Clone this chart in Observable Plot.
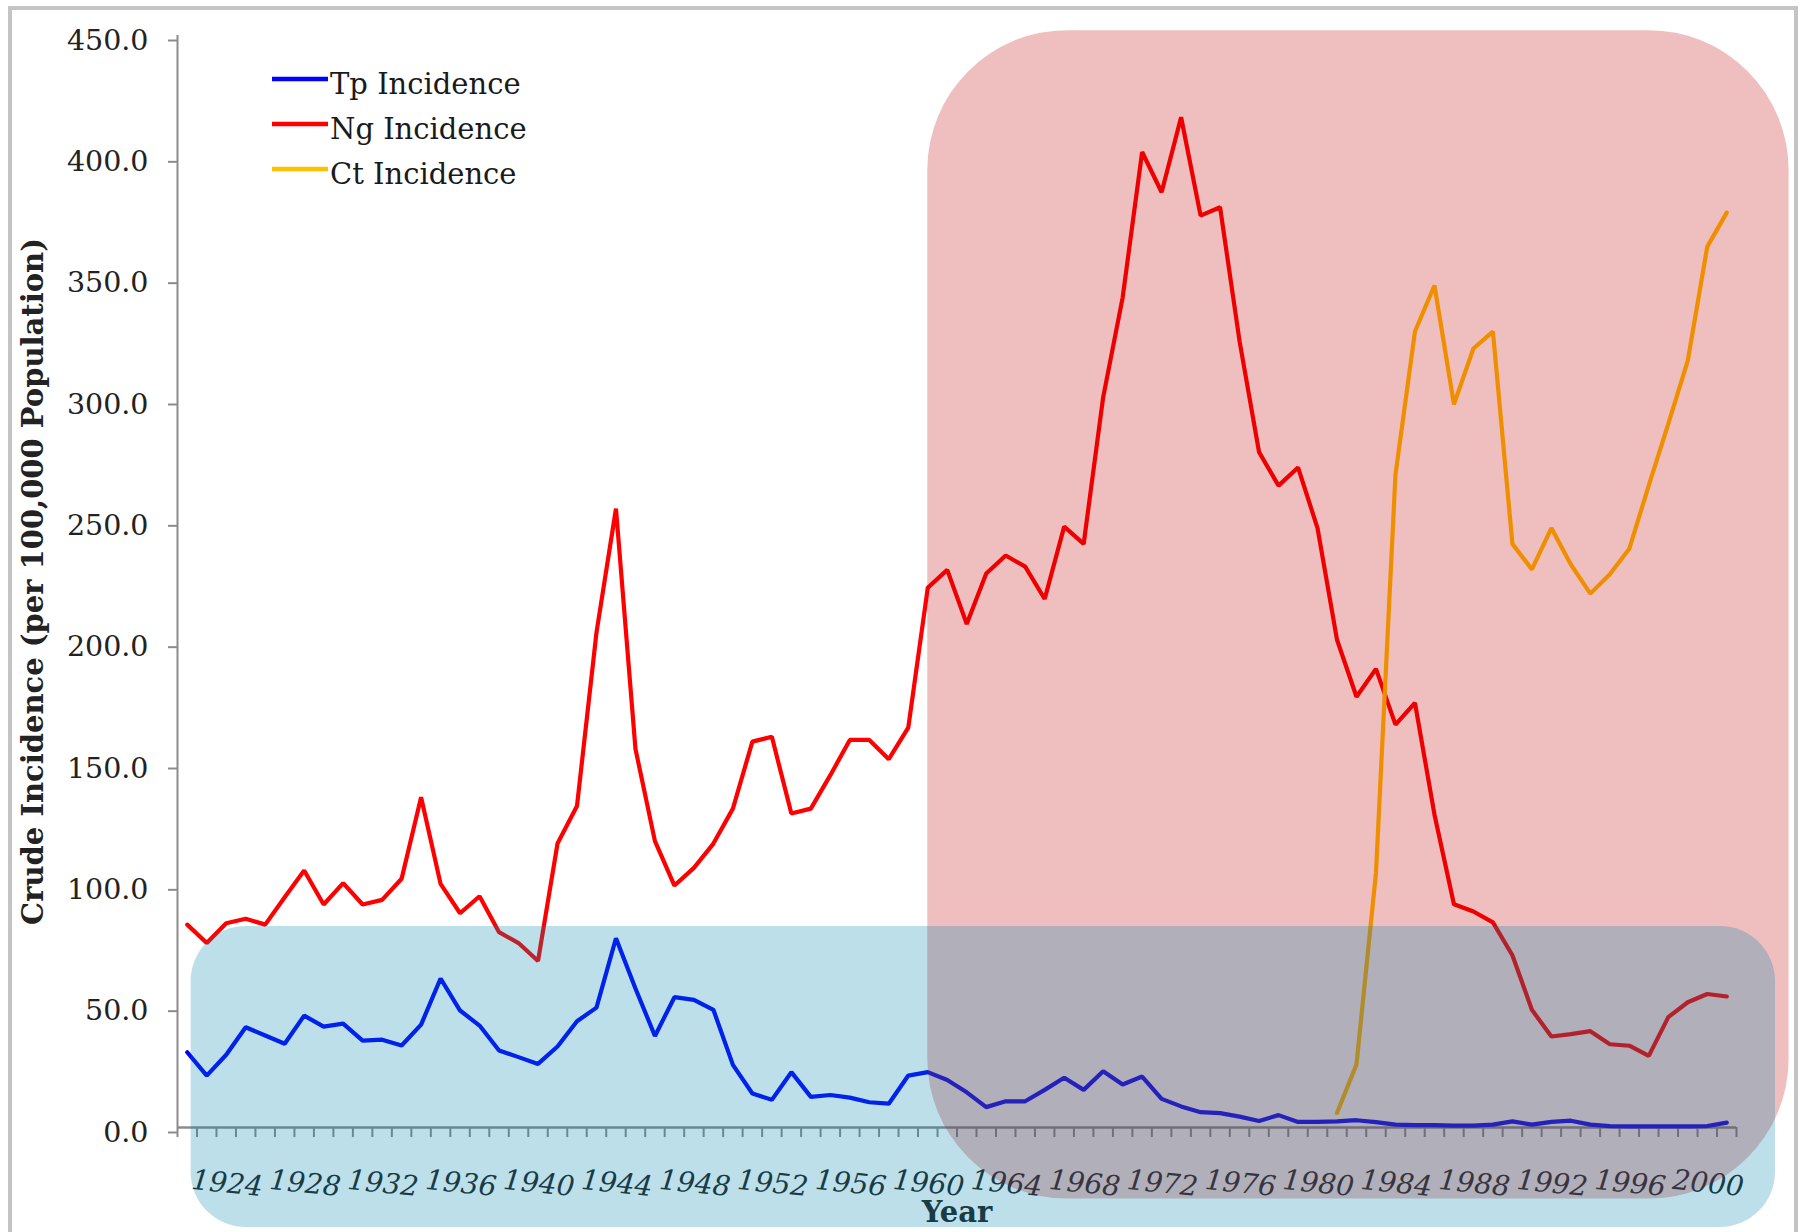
<!DOCTYPE html>
<html>
<head>
<meta charset="utf-8">
<script src="https://cdn.jsdelivr.net/npm/d3@7"></script>
<script src="https://cdn.jsdelivr.net/npm/@observablehq/plot@0.6"></script>
<style>
  html, body { margin: 0; padding: 0; background: #fff; }
  #wrap { position: relative; width: 1810px; height: 1232px; overflow: hidden; background: #fff; }
  #frame { position: absolute; left: 8px; top: 6px; width: 1790px; height: 1230px; box-sizing: border-box;
           border: 4px solid #c4c4c4; pointer-events: none; }
  #legend { position: absolute; left: 0; top: 0; pointer-events: none; }
</style>
</head>
<body>
<div id="wrap"><div id="chart"></div><svg id="legend" width="600" height="220"></svg><div id="frame"></div></div>
<script>
// ---- data ----
const startYear = 1922;
const tpIncidence = [
  31, 21.4, 30, 41.3, 37.9, 34.5, 46.1, 41.6, 42.8, 35.8,
  36.2, 33.8, 42.4, 61.4, 48.2, 42, 31.7, 29, 26.2, 33.4,
  43.8, 49.4, 78, 57.3, 37.7, 53.7, 52.6, 48.5, 25.8, 14,
  11.4, 22.8, 12.6, 13.4, 12.3, 10.4, 9.8, 21.4, 22.8, 19.6,
  14.5, 8.4, 10.8, 10.8, 15.5, 20.5, 15.5, 23.2, 17.7, 21,
  11.8, 8.7, 6.3, 5.9, 4.5, 2.7, 5.1, 2.3, 2.3, 2.5,
  3, 2.2, 1.2, 1, 1, 0.8, 0.8, 1.2, 2.5, 1.2,
  2.3, 2.8, 1.2, 0.6, 0.5, 0.5, 0.5, 0.5, 0.6, 2
];
const ngIncidence = [
  83.6, 76, 84.2, 86, 83.6, 94.9, 105.9, 91.9, 100.7, 91.9,
  93.8, 102.5, 136.1, 100.4, 88.3, 95.3, 80.5, 76, 68.6, 117,
  132.5, 204, 255, 156, 118, 99.7, 107, 117, 131.4, 159,
  161, 129.4, 131.4, 145.2, 159.7, 159.7, 151.8, 164.8, 222.4, 229.8,
  207.5, 228.3, 235.7, 231.1, 217.8, 247.6, 240.5, 300.9, 342, 402,
  385.4, 416.3, 375.8, 379.2, 324, 278.3, 264.5, 272, 247, 201,
  177.5, 189, 166, 175, 129, 92, 89, 84.5, 71, 48.5,
  37.5, 38.5, 39.7, 34.3, 33.7, 29.5, 45.5, 51.6, 55, 54
];
const ctStartYear = 1981;
const ctIncidence = [
  6, 26, 105, 269, 328, 347, 298, 321, 328, 240.5,
  230, 247, 232, 220, 228, 238.5, 264.6, 290, 316, 363, 377
];
const seriesNames = ["Tp Incidence", "Ng Incidence", "Ct Incidence"];
const seriesColors = ["#0000ff", "#ff0000", "#ffc000"];
const xTickYears = [1924, 1928, 1932, 1936, 1940, 1944, 1948, 1952, 1956, 1960,
                    1964, 1968, 1972, 1976, 1980, 1984, 1988, 1992, 1996, 2000];
const yTickValues = [0, 50, 100, 150, 200, 250, 300, 350, 400, 450];
// highlighted regions (data units: years / incidence)
const ngRegion = [{x1: 1960, x2: 2004.2, y1: -29.5, y2: 452}];
const tpRegion = [{x1: 1922.2, x2: 2003.5, y1: -41.2, y2: 82.8}];
const yLabel = "Crude Incidence (per 100,000 Population)";
const xLabel = "Year";

// ---- tables ----
const toRows = (vals, y0) => vals.map((v, i) => ({year: y0 + i, value: v}));
const tp = toRows(tpIncidence, startYear);
const ng = toRows(ngIncidence, startYear);
const ct = toRows(ctIncidence, ctStartYear);
const nYears = tpIncidence.length;
const xDomain = [startYear - 0.5, startYear + nYears - 0.5];
const boundaries = d3.range(xDomain[0], xDomain[1] + 0.01, 1);

const font = "DejaVu Serif";
const lw = 4.2;
const chart = Plot.plot({
  width: 1810,
  height: 1232,
  marginLeft: 177,
  marginRight: 74,
  marginTop: 35,
  marginBottom: 105,
  style: {fontFamily: font, fontSize: "28px", background: "transparent", color: "#222", overflow: "visible"},
  x: {domain: xDomain, label: null},
  y: {domain: [0, 450], label: null},
  marks: [
    Plot.axisY(yTickValues, {tickSize: 9, tickPadding: 20, strokeWidth: 2, stroke: "#8c8c8c", fill: "#222",
                             tickFormat: d => d.toFixed(1), fontSize: 28.5, dy: 5}),
    Plot.axisX(boundaries, {tickSize: 10, strokeWidth: 2, stroke: "#8c8c8c", tickFormat: () => ""}),
    Plot.ruleX([xDomain[0]], {stroke: "#8c8c8c", strokeWidth: 2}),
    Plot.ruleY([0], {stroke: "#8c8c8c", strokeWidth: 2.5}),
    Plot.text(xTickYears, {x: d => d, frameAnchor: "bottom", dy: 65, rotate: 6, text: d => String(d),
                           fontStyle: "italic", fontSize: 28, fill: "#222"}),
    Plot.text([yLabel], {frameAnchor: "left", dx: -144, rotate: -90, text: d => d,
                         fontWeight: "bold", fontSize: 29, fill: "#222", textAnchor: "middle"}),
    Plot.text([xLabel], {frameAnchor: "bottom", dy: 94, text: d => d,
                         fontWeight: "bold", fontSize: 29, fill: "#222", textAnchor: "middle"}),
    Plot.line(tp, {x: "year", y: "value", stroke: seriesColors[0], strokeWidth: lw, strokeLinejoin: "miter"}),
    Plot.line(ng, {x: "year", y: "value", stroke: seriesColors[1], strokeWidth: lw, strokeLinejoin: "miter"}),
    Plot.line(ct, {x: "year", y: "value", stroke: seriesColors[2], strokeWidth: lw, strokeLinejoin: "miter"}),
    Plot.rect(ngRegion, {x1: "x1", x2: "x2", y1: "y1", y2: "y2", fill: "rgb(192,0,0)", fillOpacity: 0.255, rx: 140}),
    Plot.rect(tpRegion, {x1: "x1", x2: "x2", y1: "y1", y2: "y2", fill: "rgb(0,132,172)", fillOpacity: 0.26, rx: 55})
  ]
});
document.getElementById("chart").appendChild(chart);

// ---- legend ----
const legend = d3.select("#legend");
const rowY = [79, 124, 169];
seriesNames.forEach((name, i) => {
  legend.append("line").attr("x1", 272).attr("x2", 328).attr("y1", rowY[i]).attr("y2", rowY[i])
    .attr("stroke", seriesColors[i]).attr("stroke-width", 4.5);
  legend.append("text").attr("x", 330).attr("y", rowY[i] + 15)
    .attr("font-family", font).attr("font-size", 29).attr("fill", "#1a1a1a").text(name);
});
</script>
</body>
</html>
